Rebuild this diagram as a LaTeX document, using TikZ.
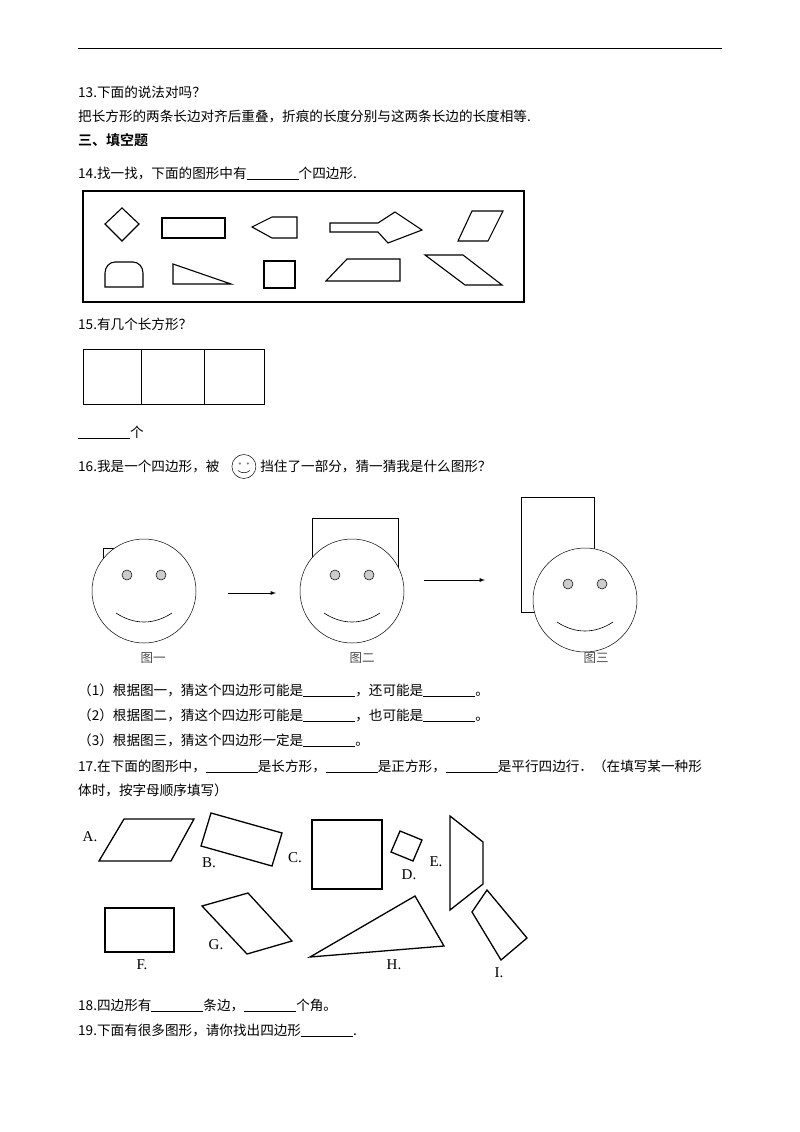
\documentclass[tikz,border=0pt]{standalone}
\usepackage{fontspec}
\setmainfont{Noto Sans CJK SC}
\newfontfamily\cjkb{Noto Sans CJK SC Bold}
\newfontfamily\serifl{Liberation Serif}
\newcommand{\blank}{\rule[-1.5pt]{52pt}{0.5pt}}
\begin{document}
\begin{tikzpicture}[x=1pt,y=-1pt,
  txt/.style={anchor=base west,inner sep=0pt,font=\fontsize{13.6}{15}\selectfont},
  shp/.style={draw,line width=1.1pt,line join=miter},
  shq/.style={draw,line width=1.3pt},
  face/.style={draw,line width=0.5pt,fill=white},
  eye/.style={draw,line width=0.5pt,fill=gray!40},
  lab/.style={font=\fontsize{15}{16}\serifl,inner sep=0pt}]
\useasboundingbox (0,0) rectangle (800,1132);
\draw[line width=0.8pt] (78,48) coordinate (l1) -- (722,48) coordinate (l2);
\node[txt] (t13) at (78,97) {13.下面的说法对吗？};
\node[txt] (t13b) at (78,121) {把长方形的两条长边对齐后重叠，折痕的长度分别与这两条长边的长度相等.};
\node[txt,font=\fontsize{14}{15}\cjkb] (t3) at (78,145) {三、填空题};
\node[txt] (t14) at (78,178) {14.找一找，下面的图形中有\blank 个四边形.};
% Q14 box
\draw[line width=1.3pt] (83,191) rectangle (524,302);
\draw[shp] (122,208)--(139,224)--(122,241)--(105,224)--cycle;
\draw[shp] (162,218) rectangle (225,238);
\draw[shp] (252,227)--(272,217)--(297,217)--(297,238)--(272,238)--cycle;
\draw[shp] (330,223)--(378,223)--(395,212)--(422,230)--(388,243)--(378,232)--(330,232)--cycle;
\draw[shp] (458,241)--(472,211)--(503,211)--(488,241)--cycle;
\draw[shp] (105,287)--(105,273) to[out=90,in=180] (115,262)--(133,262) to[out=0,in=90] (143,273)--(143,287)--cycle;
\draw[shp] (173,264)--(231,284)--(173,284)--cycle;
\draw[shp] (264,261) rectangle (295,288);
\draw[shp] (326,281)--(347,259)--(400,259)--(400,281)--cycle;
\draw[shp] (425,255)--(463,255)--(502,285)--(465,285)--cycle;
% Q15
\node[txt] (t15) at (78,329) {15.有几个长方形？};
\draw[line width=0.8pt] (83,349) rectangle (264,404);
\draw[line width=0.8pt] (141,349)--(141,404) (204,349)--(204,404);
\node[txt] (t15b) at (78,437) {\blank 个};
% Q16
\node[txt] (t16a) at (78,471) {16.我是一个四边形，被};
\node[face,circle,minimum size=24pt,inner sep=0pt,anchor=west] (ico) at ([xshift=12pt,yshift=4.5pt]t16a.base east) {};
\node[txt] (t16b) at ([xshift=4pt,yshift=-4.5pt]ico.east) {挡住了一部分，猜一猜我是什么图形？};
\fill[gray] ([shift={(-4,-3)}]ico.center) circle (1.3) ([shift={(4,-3)}]ico.center) circle (1.3);
\draw[line width=0.5pt] ([shift={(-6,4)}]ico.center) to[bend right=40] ([shift={(6,4)}]ico.center);
% faces
\draw[line width=0.5pt] (103,548) rectangle (150,600);
\draw[face] (144,591) circle (52);
\draw[line width=0.5pt] (312,518) rectangle (398,580);
\draw[face] (352,591) circle (52);
\draw[line width=0.5pt] (521,497) rectangle (594,612);
\draw[face] (585,600) circle (52);
\foreach \cx/\cy in {144/591,352/591,585/600}{
  \draw[eye] (\cx-17,\cy-16) circle (5);
  \draw[eye] (\cx+17,\cy-16) circle (5);
  \draw[line width=0.6pt] (\cx-28,\cy+22) .. controls (\cx-10,\cy+34) and (\cx+10,\cy+34) .. (\cx+28,\cy+22);
}
\coordinate (a1s) at (228,593); \coordinate (a1e) at (276,593);
\coordinate (a2s) at (424,580); \coordinate (a2e) at (485,580);
\draw[-latex,line width=0.9pt] (a1s)--(a1e);
\draw[-latex,line width=0.9pt] (a2s)--(a2e);
\node[font=\fontsize{12.5}{13}\selectfont,text=black!70] (g1) at (153,658) {图一};
\node[font=\fontsize{12.5}{13}\selectfont,text=black!70] (g2) at (362,658) {图二};
\node[font=\fontsize{12.5}{13}\selectfont,text=black!70] (g3) at (596,658) {图三};
\node[txt] (p1) at (78,695) {（1）根据图一，猜这个四边形可能是\blank ，还可能是\blank 。};
\node[txt] (p2) at (78,720) {（2）根据图二，猜这个四边形可能是\blank ，也可能是\blank 。};
\node[txt] (p3) at (78,745) {（3）根据图三，猜这个四边形一定是\blank 。};
% Q17
\node[txt] (t17) at (78,771) {17.在下面的图形中，\blank 是长方形，\blank 是正方形，\blank 是平行四边行．（在填写某一种形};
\node[txt] (t17b) at (78,795) {体时，按字母顺序填写）};
\draw[shq] (124,819)--(194,819)--(171,861)--(99,861)--cycle;
\node[lab] (lA) at (90,837) {A.};
\draw[shq] (211,813)--(282,833)--(272,866)--(201,846)--cycle;
\node[lab] (lB) at (209,863) {B.};
\draw[shq] (312,820) rectangle (382,889);
\node[lab] (lC) at (295,858) {C.};
\draw[shq] (400,831)--(422,840)--(413,861)--(391,852)--cycle;
\node[lab] (lD) at (409,875) {D.};
\draw[shq] (450,816)--(483,842)--(483,884)--(450,910)--cycle;
\node[lab] (lE) at (436,862) {E.};
\draw[shq] (105,908) rectangle (174,952);
\node[lab] (lF) at (142,965) {F.};
\draw[shq] (202,906)--(248,893)--(292,941)--(247,954)--cycle;
\node[lab] (lG) at (216,945) {G.};
\draw[shq] (310,957)--(415,896)--(444,946)--cycle;
\node[lab] (lH) at (394,965) {H.};
\draw[shq] (472,912)--(487,890)--(527,938)--(501,960)--cycle;
\node[lab] (lI) at (499,973) {I.};
\node[txt] (t18) at (78,1010) {18.四边形有\blank 条边，\blank 个角。};
\node[txt] (t19) at (78,1035) {19.下面有很多图形，请你找出四边形\blank .};
\end{tikzpicture}
\end{document}
